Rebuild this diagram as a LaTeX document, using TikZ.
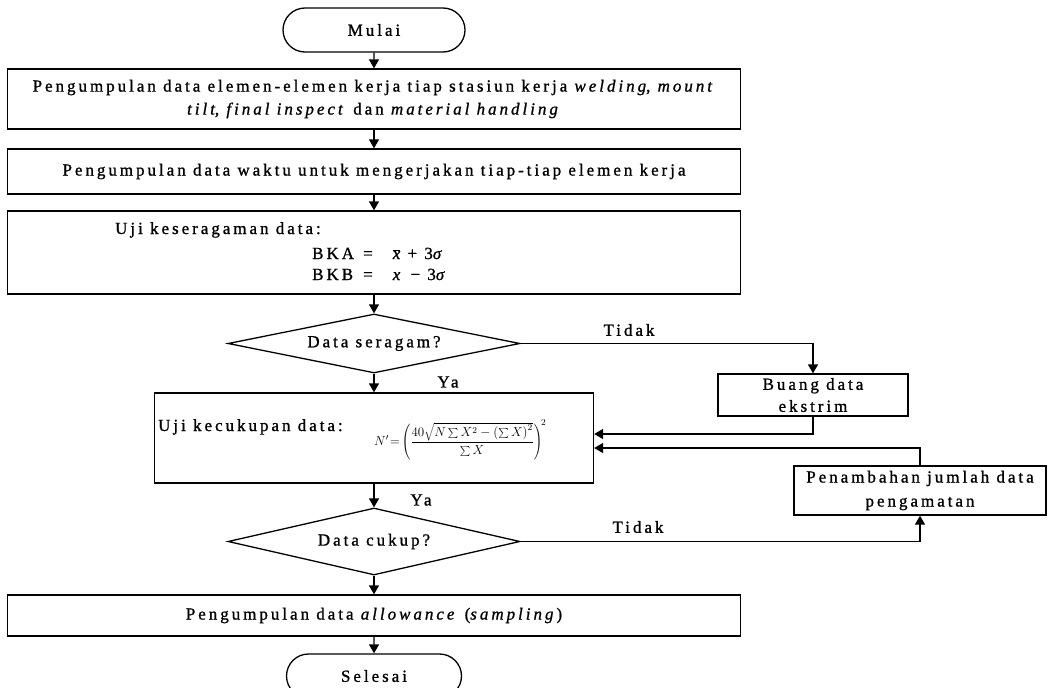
\RequirePackage{fix-cm}
\documentclass[tikz,border=0pt]{standalone}
\usepackage{fontspec}
\setmainfont{Liberation Serif}[LetterSpace=17.5,FakeBold=1]
\usetikzlibrary{shapes.geometric,shapes.misc,arrows.meta,calc}
\begin{document}
\begin{tikzpicture}[x=1pt,y=-1pt,
  every node/.style={font=\fontsize{17}{23}\selectfont, inner sep=0pt},
  box/.style={draw, line width=1.3pt, rectangle},
  term/.style={draw, line width=1.3pt, rounded rectangle},
  dec/.style={draw, line width=1.3pt, diamond, aspect=5},
  conn/.style={line width=1.3pt, -{Triangle[length=9pt,width=10pt]}}
]
\fill[white] (0,0) rectangle (1050,688);
\useasboundingbox (0,0) rectangle (1050,688);

\node[term, minimum width=182pt, minimum height=44pt] (mulai) at (374,30) {Mulai};
\node[box, minimum width=733pt, minimum height=60pt, align=center] (b1) at (374,99)
  {Pengumpulan data elemen-elemen kerja tiap stasiun kerja \textit{welding}, \textit{mount}\\ \textit{tilt}, \textit{final inspect} dan \textit{material handling}};
\node[box, minimum width=733pt, minimum height=45pt] (b2) at (374,171.5)
  {Pengumpulan data waktu untuk mengerjakan tiap-tiap elemen kerja};
\node[box, minimum width=733pt, minimum height=83pt] (b3) at (374,252.5) {};
\node[anchor=base west] (t3a) at (115,234) {Uji keseragaman data:};
\node[anchor=base west] (bka) at (312,259) {\makebox[51pt][l]{BKA}=\hspace{20pt}$\overline{\mbox{\itshape x}}$ + 3\textit{σ}};
\node[anchor=base west] (bkb) at (312,280) {\makebox[51pt][l]{BKB}=\hspace{20pt}\textit{x} − 3\textit{σ}};

\node[dec, minimum width=292pt, minimum height=59pt] (d1) at (374,343.5) {Data seragam?};
\node (tidak1) at (629,330) {Tidak};
\node (ya1) at (448,382) {Ya};
\node[box, minimum width=190pt, minimum height=42pt, align=center, font=\fontsize{17}{22}\selectfont] (buang) at (813,395) {Buang data\\ekstrim};

\node[box, minimum width=439pt, minimum height=90pt] (b4) at (374,438) {};
\node[anchor=base west] (t4) at (158,431) {Uji kecukupan data:};
\node[anchor=west, font=\fontsize{13}{15}\selectfont] (f4) at (374,440)
  {$\displaystyle N'\!=\!\left(\frac{40\sqrt{N\sum X^2-\left(\sum X\right)^2}}{\sum X}\right)^{\!2}$};

\node[box, minimum width=252pt, minimum height=49pt, align=center, font=\fontsize{17}{24}\selectfont] (pen) at (920,490.5) {Penambahan jumlah data\\pengamatan};

\node[dec, minimum width=292pt, minimum height=67pt] (d2) at (374,541.5) {Data cukup?};
\node (ya2) at (421,500) {Ya};
\node (tidak2) at (638,527) {Tidak};

\node[box, minimum width=733pt, minimum height=41pt] (b5) at (374,615.5)
  {Pengumpulan data \textit{allowance} (\textit{sampling})};
\node[term, minimum width=175pt, minimum height=44pt] (sel) at (374,676) {Selesai};

\draw[conn] (mulai) -- (b1);
\draw[conn] (b1) -- (b2);
\draw[conn] (b2) -- (b3);
\draw[conn] (b3) -- (d1);
\draw[conn] (d1) -- (b4);
\draw[conn] (b4) -- (d2);
\draw[conn] (d2) -- (b5);
\draw[conn] (b5) -- (sel);
\draw[conn] (d1.east) -| (buang.north);
\draw[conn] (buang.south) |- ($(b4.east)+(0,-4)$);
\draw[conn] (pen.north) |- ($(b4.east)+(0,10)$);
\draw[conn] (d2.east) -| (pen.south);
\end{tikzpicture}
\end{document}
